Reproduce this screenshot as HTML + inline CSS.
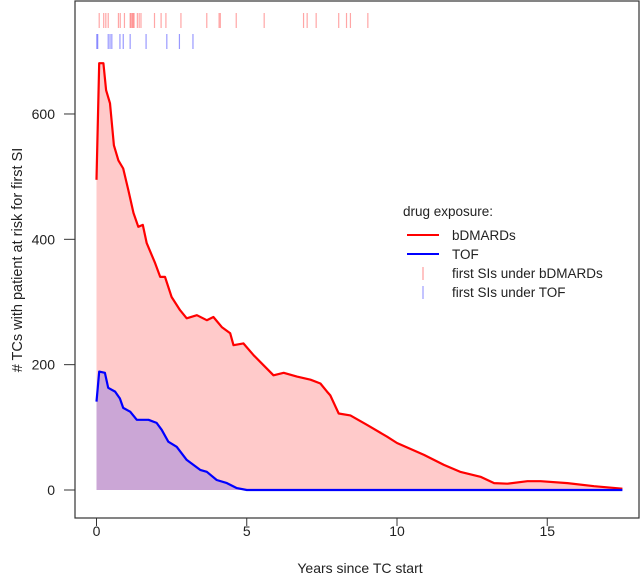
<!DOCTYPE html>
<html><head><meta charset="utf-8"><style>
body{margin:0;background:#fff}
svg{display:block;font-family:"Liberation Sans",Arial,sans-serif}
</style></head><body>
<svg id="chart" width="644" height="585" viewBox="0 0 644 585">
<g id="areas"></g><g id="lines"></g><g id="rug"></g><g id="axes"></g>
<rect x="75" y="1" width="564" height="517" fill="none" stroke="#333" stroke-width="1.2"/>
<text x="360" y="573" font-size="14" text-anchor="middle" fill="#222">Years since TC start</text>
<text transform="translate(22,260) rotate(-90)" font-size="14.5" text-anchor="middle" fill="#222"># TCs with patient at risk for first SI</text>
<g font-size="13.5" fill="#222">
<text x="403" y="216">drug exposure:</text>
<line x1="407" y1="235" x2="439" y2="235" stroke="#f00" stroke-width="2"/>
<text x="452" y="240">bDMARDs</text>
<line x1="407" y1="254" x2="439" y2="254" stroke="#00f" stroke-width="2"/>
<text x="452" y="259">TOF</text>
<line x1="423" y1="267" x2="423" y2="280" stroke="#f88" stroke-width="1"/>
<text x="452" y="278">first SIs under bDMARDs</text>
<line x1="423" y1="286" x2="423" y2="299" stroke="#88f" stroke-width="1"/>
<text x="452" y="297">first SIs under TOF</text>
</g>
</svg>
<script>
const bYears=[0,0.09,0.23,0.32,0.45,0.58,0.73,0.89,1.06,1.23,1.39,1.54,1.67,1.95,2.12,2.28,2.5,2.78,3.0,3.34,3.67,3.89,4.17,4.45,4.56,4.89,5.23,5.56,5.89,6.23,6.67,7.12,7.45,7.67,7.78,8.06,8.45,9.0,9.67,10.0,10.9,11.56,12.1,12.78,13.23,13.67,14.34,14.78,15.67,16.56,17.5];
const bValues=[495,681,681,638,617,550,526,513,478,442,420,423,394,362,340,340,308,287,274,279,271,276,260,250,231,234,215,199,183,187,181,176,170,157,151,122,119,104,85,75,56,40,29,21,11,10,14,14,11,6,2];
const tYears=[0,0.09,0.28,0.39,0.62,0.78,0.89,1.12,1.34,1.73,2.0,2.17,2.39,2.67,3.0,3.45,3.67,4.0,4.34,4.67,5.0,17.5];
const tValues=[141,189,187,163,157,146,131,125,112,112,107,96,77,69,48,32,29,16,11,3,0,0];
const siB=[0.09,0.24,0.31,0.39,0.73,0.79,0.93,1.12,1.15,1.19,1.22,1.25,1.36,1.42,1.48,1.93,2.15,2.31,2.81,3.67,4.08,4.12,4.65,5.58,6.89,7.01,7.31,8.06,8.32,8.45,9.03];
const siT=[0.01,0.04,0.39,0.45,0.51,0.78,0.89,1.12,1.65,2.34,2.76,3.21];
const xTicks=[0,5,10,15];
const yTicks=[0,200,400,600];
const X=v=>96.5+v*30.05, Y=v=>490-v*0.6267;
const NS='http://www.w3.org/2000/svg';
function mk(parent,tag,attrs){const e=document.createElementNS(NS,tag);for(const k in attrs)e.setAttribute(k,attrs[k]);document.getElementById(parent).appendChild(e);return e;}
function pts(xs,ys){return xs.map((x,i)=>X(x).toFixed(1)+','+Y(ys[i]).toFixed(1)).join(' ');}
let a=mk('areas','polygon',{points:pts(bYears,bValues)+' '+X(bYears[bYears.length-1])+','+Y(0)+' '+X(0)+','+Y(0),fill:'#ffcaca'});


a=mk('areas','polygon',{points:pts(tYears,tValues)+' '+X(tYears[tYears.length-1])+','+Y(0)+' '+X(0)+','+Y(0),fill:'#cba6d6'});


let l=mk('lines','polyline',{points:pts(bYears,bValues),fill:'none',stroke:'#f00','stroke-width':2.2,'stroke-linejoin':'round'});


l=mk('lines','polyline',{points:pts(tYears,tValues),fill:'none',stroke:'#00f','stroke-width':2.2,'stroke-linejoin':'round'});


siB.forEach(v=>{const r=mk('rug','line',{x1:X(v),x2:X(v),y1:13,y2:28,stroke:'rgba(255,0,0,0.35)','stroke-width':1.2});

});
siT.forEach(v=>{const r=mk('rug','line',{x1:X(v),x2:X(v),y1:34,y2:49,stroke:'rgba(0,0,255,0.4)','stroke-width':1.2});

});
xTicks.forEach(v=>{const t=mk('axes','line',{x1:X(v),x2:X(v),y1:518,y2:526,stroke:'#333'});


const s=mk('axes','text',{x:X(v),y:536,'font-size':14,'text-anchor':'middle',fill:'#222'});s.textContent=v;

});
yTicks.forEach(v=>{const t=mk('axes','line',{x1:64,x2:75,y1:Y(v),y2:Y(v),stroke:'#333'});


const s=mk('axes','text',{x:55,y:Y(v)+5,'font-size':14,'text-anchor':'end',fill:'#222'});s.textContent=v;

});
</script>
</body></html>
